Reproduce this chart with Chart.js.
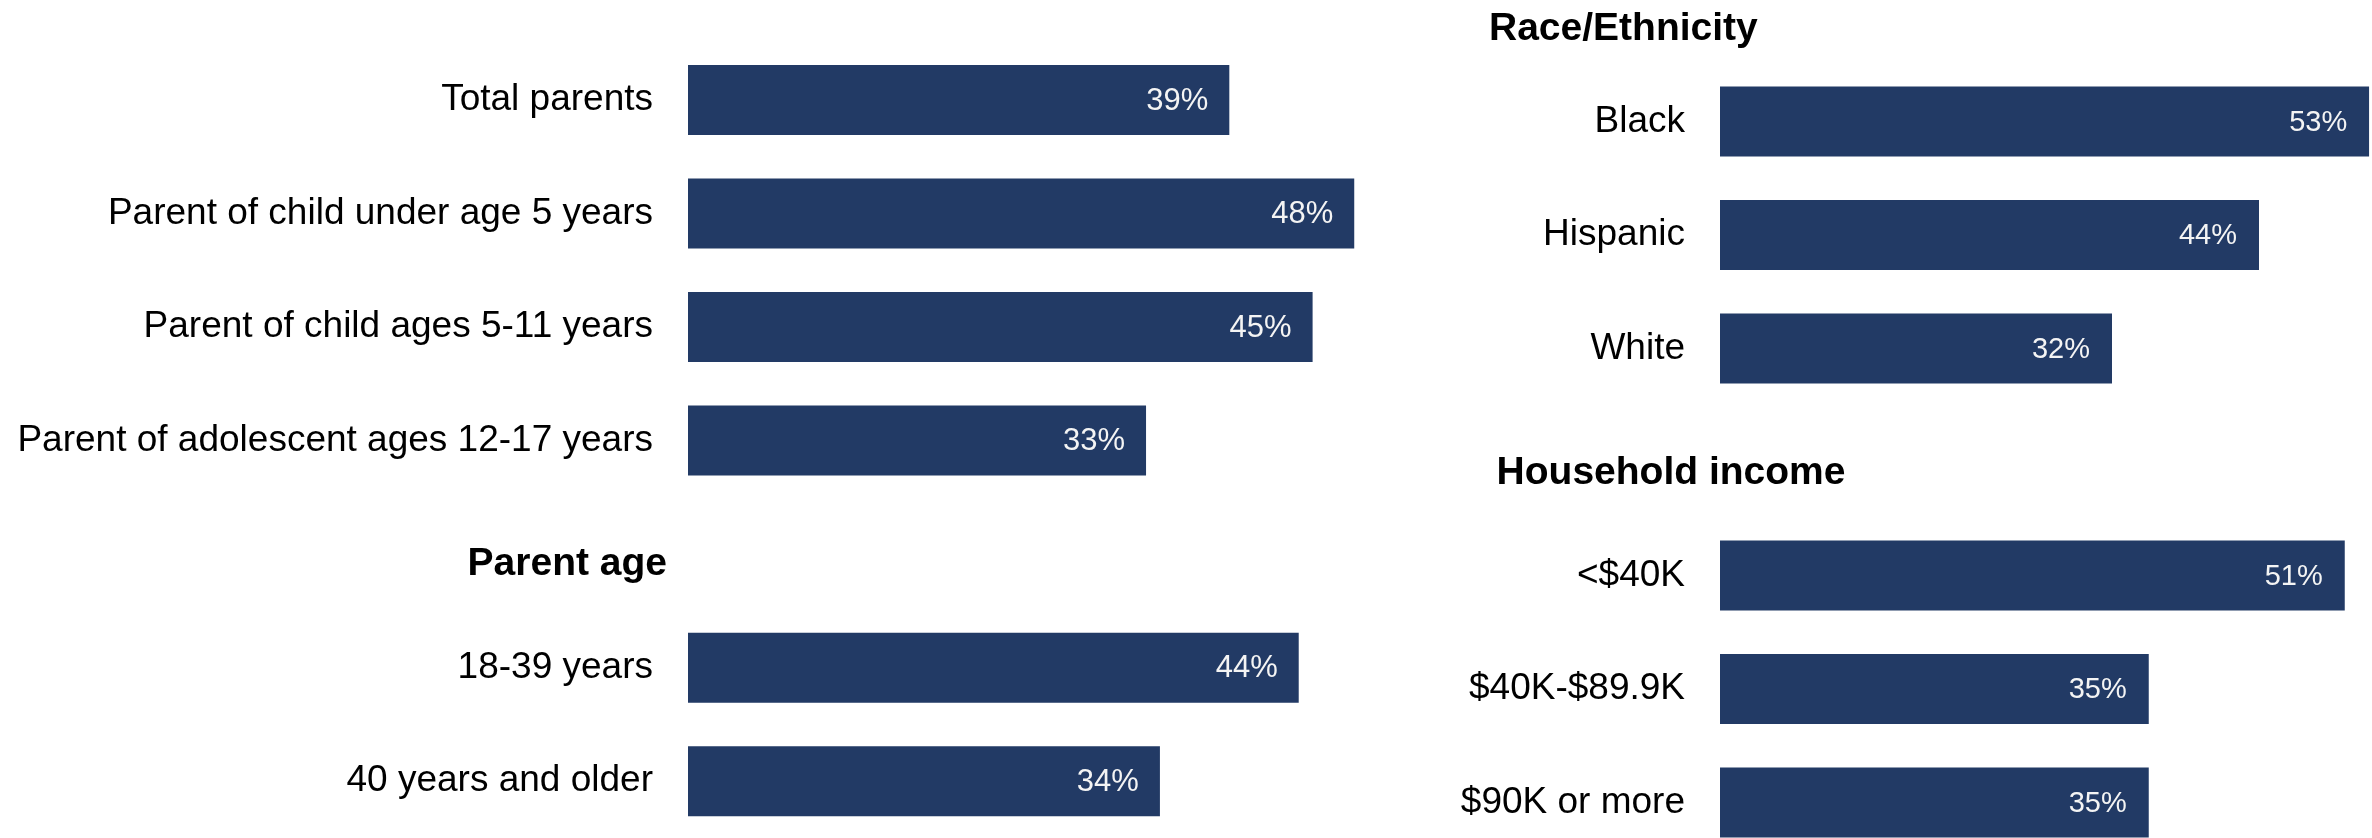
<!DOCTYPE html>
<html><head><meta charset="utf-8">
<script src="https://cdn.jsdelivr.net/npm/chart.js@4.4.1/dist/chart.umd.min.js"></script>
<style>
html,body{margin:0;padding:0;background:#fff;width:2372px;height:838px;overflow:hidden;position:relative}
#wl{position:absolute;left:0;top:0;width:1400px;height:838px}
#wr{position:absolute;left:1450px;top:0;width:922px;height:860px}
</style></head><body>
<div id="wl"><canvas id="cl"></canvas></div>
<div id="wr"><canvas id="cr"></canvas></div>
<script>
// ---- data ----
const leftCategories = ['Total parents','Parent of child under age 5 years','Parent of child ages 5-11 years','Parent of adolescent ages 12-17 years','Parent age','18-39 years','40 years and older'];
const leftValues = [39,48,45,33,null,44,34];
const rightCategories = ['Black','Hispanic','White','Household income','<$40K','$40K-$89.9K','$90K or more'];
const rightValues = [53,44,32,null,51,35,35];
const rightTopHeading = 'Race/Ethnicity';

const FONT = "'Liberation Sans', Arial, sans-serif";
const BAR = '#223a65';

function valueLabels(size, pad){
  return {
    id:'valueLabels',
    afterDatasetsDraw(chart){
      const ctx = chart.ctx;
      const meta = chart.getDatasetMeta(0);
      const vals = chart.data.datasets[0].data;
      ctx.save();
      ctx.font = size + 'px ' + FONT;
      ctx.fillStyle = '#f4f4f4';
      ctx.textAlign = 'right';
      ctx.textBaseline = 'middle';
      meta.data.forEach((el,i)=>{
        if (vals[i]==null) return;
        ctx.fillText(vals[i] + '%', el.x - pad, el.y + 1);
      });
      ctx.restore();
    }
  };
}

function headings(cfg){
  return {
    id:'headings',
    afterDraw(chart){
      const ctx = chart.ctx;
      const ys = chart.scales.y;
      const vals = chart.data.datasets[0].data;
      const labels = chart.data.labels;
      ctx.save();
      ctx.font = 'bold 39px ' + FONT;
      ctx.fillStyle = '#000';
      ctx.textBaseline = 'alphabetic';
      ctx.textAlign = cfg.align;
      vals.forEach((v,i)=>{
        if (v!=null) return;
        const x = cfg.align==='right' ? chart.chartArea.left - cfg.dx : cfg.dx;
        ctx.fillText(labels[i], x, ys.getPixelForValue(i) + cfg.dy);
      });
      if (cfg.topText){
        ctx.textAlign = 'left';
        ctx.fillText(cfg.topText, cfg.topX, chart.chartArea.top + cfg.topDy);
      }
      ctx.restore();
    }
  };
}

function makeChart(id, labels, values, o){
  return new Chart(document.getElementById(id), {
    type:'bar',
    data:{labels:labels, datasets:[{data:values, backgroundColor:BAR, borderWidth:0, categoryPercentage:1, barPercentage:70/113.5}]},
    options:{
      indexAxis:'y', responsive:true, maintainAspectRatio:false, animation:false, devicePixelRatio:1,
      layout:{padding:{top:o.padTop, bottom:o.padBottom, left:0, right:o.padRight}},
      plugins:{legend:{display:false}, tooltip:{enabled:false}, title:{display:false}},
      scales:{
        x:{display:false, min:0, max:o.max},
        y:{
          grid:{display:false}, border:{display:false},
          ticks:{padding:27, color:'#000', autoSkip:false, font:{family:FONT, size:37},
            callback:function(v,i){ return values[i]==null ? '' : labels[i]; }},
          afterFit:function(s){ s.width = o.axisWidth; s.paddingTop = 0; s.paddingBottom = 0; }
        }
      }
    },
    plugins:[valueLabels(o.valSize, o.valPad), headings(o.head)]
  });
}

makeChart('cl', leftCategories, leftValues, {
  padTop:43.2, padBottom:0, padRight:18, max:50, axisWidth:688, valSize:31, valPad:21,
  head:{align:'right', dx:21, dy:21}
});
makeChart('cr', rightCategories, rightValues, {
  padTop:64.75, padBottom:0.75, padRight:2.75, max:53, axisWidth:270, valSize:29, valPad:22,
  head:{align:'left', dx:46.6, dy:22.3, topText:rightTopHeading, topX:39, topDy:-25.25}
});
</script>
</body></html>
